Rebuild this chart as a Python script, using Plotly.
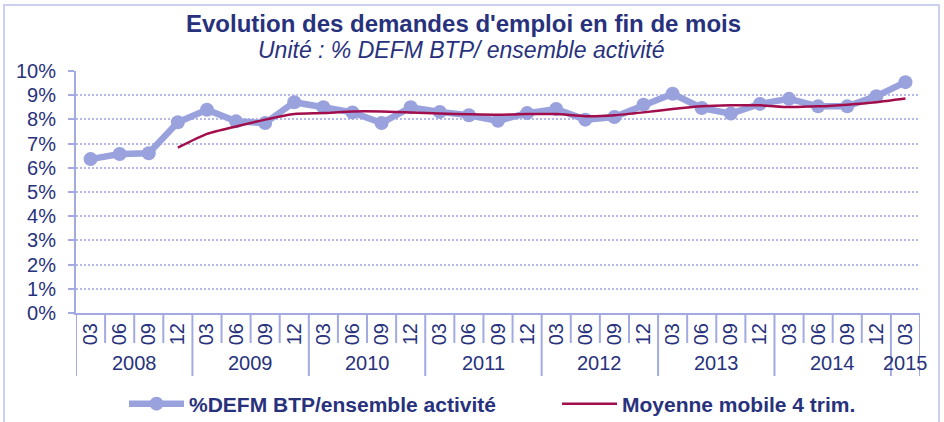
import plotly.graph_objects as go

years = ["2008", "2009", "2010", "2011", "2012", "2013", "2014", "2015"]
months = ["03", "06", "09", "12"]
categories = [f"{y}-{m}" for y in years[:-1] for m in months] + ["2015-03"]
month_labels = [c.split("-")[1] for c in categories]
year_of = [c.split("-")[0] for c in categories]

defm_pct = [6.36, 6.57, 6.60, 7.88, 8.40, 7.92, 7.85, 8.71, 8.50, 8.29, 7.85, 8.50,
            8.31, 8.17, 7.94, 8.26, 8.43, 7.99, 8.10, 8.61, 9.06, 8.47, 8.24, 8.64,
            8.85, 8.54, 8.54, 8.96, 9.54]
moving_avg = [None, None, None, 6.83, 7.40, 7.71, 7.99, 8.22, 8.26, 8.33, 8.33, 8.29,
              8.24, 8.21, 8.19, 8.22, 8.22, 8.13, 8.17, 8.29, 8.43, 8.54, 8.58, 8.58,
              8.51, 8.54, 8.61, 8.71, 8.86]

NAVY = "#28327C"
LAV = "#9AA2DE"
AXIS = "#A3AAE2"
GRID = "#B4B9EA"
MA_COL = "#A20E4C"
FONT = "Liberation Sans, Arial, sans-serif"

W, H = 944, 422
ML, MR, MT, MB = 76, 24, 71, 109
PW, PH = W - ML - MR, H - MT - MB

def py(px):  # pixel y -> paper y
    return (H - MB - px) / PH

def pxx(px):
    return (px - ML) / PW

fig = go.Figure()
fig.add_trace(go.Scatter(
    x=categories, y=defm_pct, mode="lines+markers",
    name="%DEFM BTP/ensemble activité",
    line=dict(color=LAV, width=6.5),
    marker=dict(color=LAV, size=14, symbol="circle"),
    legend="legend",
))
fig.add_trace(go.Scatter(
    x=categories, y=moving_avg, mode="lines",
    name="Moyenne mobile 4 trim.",
    line=dict(color=MA_COL, width=2.5, shape="spline", smoothing=0.6),
    connectgaps=False,
    legend="legend2",
))

shapes = []
n = len(categories)
for i in range(n + 1):
    pos = i - 0.5
    is_year = (i == 0) or (i == n) or (i < n and year_of[i] != year_of[i - 1])
    y1 = py(376) if is_year else py(343)
    shapes.append(dict(type="line", xref="x", yref="paper", x0=pos, x1=pos,
                       y0=0, y1=y1, line=dict(color=AXIS, width=2)))
shapes.append(dict(type="rect", xref="paper", yref="paper",
                   x0=pxx(4), x1=pxx(939), y0=py(423), y1=py(5),
                   line=dict(color="#CBCFF0", width=2), layer="below"))

annotations = []
for y in years:
    idx = [i for i, c in enumerate(year_of) if c == y]
    center = (idx[0] + idx[-1]) / 2
    annotations.append(dict(x=center, y=py(363), xref="x", yref="paper",
                            text=y, showarrow=False, yanchor="middle",
                            font=dict(family=FONT, size=20, color=NAVY)))
annotations.append(dict(x=pxx(463), y=py(23), xref="paper", yref="paper",
                        text="<b>Evolution des demandes d'emploi en fin de mois</b>",
                        showarrow=False, yanchor="middle",
                        font=dict(family=FONT, size=24, color=NAVY)))
annotations.append(dict(x=pxx(461), y=py(50), xref="paper", yref="paper",
                        text="<i>Unité : % DEFM BTP/ ensemble activité</i>",
                        showarrow=False, yanchor="middle",
                        font=dict(family=FONT, size=23, color=NAVY)))

legend_common = dict(orientation="h", xanchor="left", yanchor="middle",
                     font=dict(family=FONT, size=21, color=NAVY, weight="bold"),
                     itemwidth=55, bgcolor="rgba(0,0,0,0)")

fig.update_layout(
    width=W, height=H,
    margin=dict(l=ML, r=MR, t=MT, b=MB, pad=0, autoexpand=False),
    paper_bgcolor="white", plot_bgcolor="white",
    font=dict(family=FONT, color=NAVY, size=20),
    showlegend=True,
    legend=dict(x=pxx(124), y=py(404), **legend_common),
    legend2=dict(x=pxx(557), y=py(404), **legend_common),
    shapes=shapes,
    annotations=annotations,
)
fig.update_xaxes(
    type="category", categoryorder="array", categoryarray=categories,
    tickmode="array", tickvals=categories, ticktext=month_labels,
    tickangle=-90, ticks="", showgrid=False, zeroline=False,
    showline=True, linecolor=AXIS, linewidth=2, automargin=False,
    range=[-0.5, n - 0.5],
    tickfont=dict(family=FONT, size=20, color=NAVY),
)
fig.update_yaxes(
    range=[0, 10], dtick=1, tick0=0, ticksuffix="%",
    showgrid=True, gridcolor=GRID, gridwidth=1.5, griddash="2px,2px",
    zeroline=False, showline=True, linecolor=AXIS, linewidth=2, automargin=False,
    ticks="outside", ticklen=6, tickcolor=AXIS, tickwidth=2,
    tickfont=dict(family=FONT, size=20, color=NAVY),
    ticklabelstandoff=8,
)

fig.write_html("out.html",
               config={"displayModeBar": False},
               post_script="document.body.style.margin='0';document.body.style.overflow='hidden';")
